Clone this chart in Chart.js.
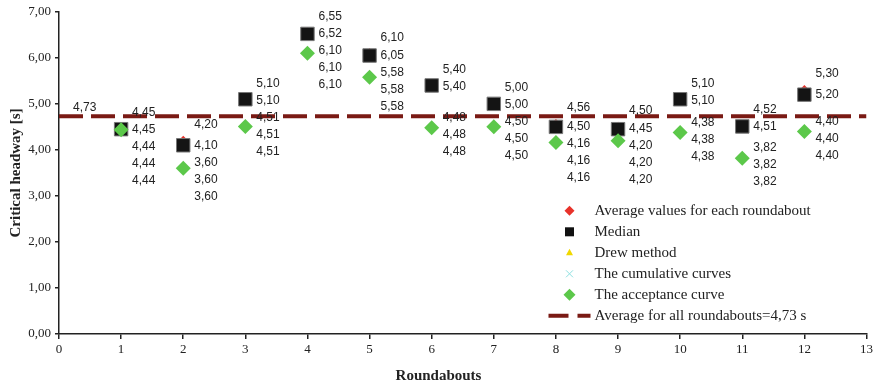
<!DOCTYPE html>
<html>
<head>
<meta charset="utf-8">
<script src="https://cdn.jsdelivr.net/npm/chart.js@4.4.1/dist/chart.umd.min.js"></script>
<style>
  html, body { margin: 0; padding: 0; background: #fff; }
  #wrap { width: 877px; height: 384px; position: relative; }
</style>
</head>
<body>
<div id="wrap"><canvas id="chart"></canvas></div>
<script>
// roundabout numbers on the x axis
const roundabouts = [1, 2, 3, 4, 5, 6, 7, 8, 9, 10, 11, 12];

// critical headway values [s]
const avgValues        = [4.45, 4.20, 5.10, 6.55, 6.10, 5.40, 5.00, 4.56, 4.50, 5.10, 4.52, 5.30];
const medianValues     = [4.45, 4.10, 5.10, 6.52, 6.05, 5.40, 5.00, 4.50, 4.45, 5.10, 4.51, 5.20];
const drewValues       = [4.44, 3.60, 4.51, 6.10, 5.58, 4.48, 4.50, 4.16, 4.20, 4.38, 3.82, 4.40];
const cumulativeValues = [4.44, 3.60, 4.51, 6.10, 5.58, 4.48, 4.50, 4.16, 4.20, 4.38, 3.82, 4.40];
const acceptanceValues = [4.44, 3.60, 4.51, 6.10, 5.58, 4.48, 4.50, 4.16, 4.20, 4.38, 3.82, 4.40];
const overallAverage = 4.73;

const xRange = [0, 13];
const yRange = [0, 7];

const seriesNames = [
  'Average values for each roundabout',
  'Median',
  'Drew method',
  'The cumulative curves',
  'The acceptance curve'
];
const averageName = 'Average for all roundabouts=4,73 s';

const fmt = (v) => v.toFixed(2).replace('.', ',');
const toPoints = (vals) => vals.map((v, i) => ({ x: roundabouts[i], y: v }));

const SERIF = '"Liberation Serif", "Times New Roman", serif';
const SANS = '"Liberation Sans", Arial, sans-serif';
const LINE_RED = '#7a1a14';

// draws the stacked value labels next to each roundabout
const valueLabels = {
  id: 'valueLabels',
  afterDatasetsDraw(chart) {
    const { ctx, scales } = chart;
    ctx.save();
    ctx.font = '12px ' + SANS;
    ctx.fillStyle = '#222';
    ctx.textBaseline = 'middle';
    ctx.textAlign = 'left';
    const all = [avgValues, medianValues, drewValues, cumulativeValues, acceptanceValues];
    roundabouts.forEach((r, i) => {
      const px = scales.x.getPixelForValue(r);
      const py = all.map((s) => scales.y.getPixelForValue(s[i]));
      let y = py[0] - 16;
      const ys = [y];
      y = Math.max(py[1], y + 17); ys.push(y);
      y = Math.max(py[2] - 10, y + 17); ys.push(y);
      y = y + 17; ys.push(y);
      y = y + 17; ys.push(y);
      all.forEach((s, k) => ctx.fillText(fmt(s[i]), px + 11, ys[k]));
    });
    // label of the overall average line
    const ly = scales.y.getPixelForValue(overallAverage);
    ctx.fillText(fmt(overallAverage), scales.x.getPixelForValue(0) + 14, ly - 9);
    ctx.restore();
  }
};

function drawMarker(ctx, kind, x, y) {
  ctx.save();
  if (kind === 'diamondRed' || kind === 'diamondGreen') {
    const r = kind === 'diamondRed' ? 5 : 6;
    ctx.fillStyle = kind === 'diamondRed' ? '#e8322a' : '#5cc84a';
    ctx.beginPath();
    ctx.moveTo(x, y - r); ctx.lineTo(x + r, y); ctx.lineTo(x, y + r); ctx.lineTo(x - r, y);
    ctx.closePath(); ctx.fill();
  } else if (kind === 'square') {
    ctx.fillStyle = '#111';
    ctx.fillRect(x - 4.5, y - 4.5, 9, 9);
  } else if (kind === 'triangle') {
    ctx.fillStyle = '#f0d800';
    ctx.beginPath();
    ctx.moveTo(x, y - 4); ctx.lineTo(x + 3.5, y + 2.5); ctx.lineTo(x - 3.5, y + 2.5);
    ctx.closePath(); ctx.fill();
  } else if (kind === 'cross') {
    ctx.strokeStyle = '#8ee0e0';
    ctx.lineWidth = 1;
    ctx.beginPath();
    ctx.moveTo(x - 3.5, y - 3.5); ctx.lineTo(x + 3.5, y + 3.5);
    ctx.moveTo(x + 3.5, y - 3.5); ctx.lineTo(x - 3.5, y + 3.5);
    ctx.stroke();
  }
  ctx.restore();
}

// legend inside the plot plus the two axis titles
const legendAndTitles = {
  id: 'legendAndTitles',
  afterDraw(chart) {
    const { ctx, chartArea } = chart;
    ctx.save();
    const kinds = ['diamondRed', 'square', 'triangle', 'cross', 'diamondGreen'];
    const mx = chartArea.right - 297;
    const tx = chartArea.right - 272;
    let y = chartArea.top + 199;
    ctx.font = '15px ' + SERIF;
    ctx.fillStyle = '#222';
    ctx.textBaseline = 'middle';
    seriesNames.forEach((name, k) => {
      drawMarker(ctx, kinds[k], mx, y);
      ctx.fillText(name, tx, y);
      y += 21;
    });
    ctx.strokeStyle = LINE_RED;
    ctx.lineWidth = 4;
    ctx.beginPath();
    ctx.moveTo(mx - 21, y); ctx.lineTo(mx - 1, y);
    ctx.moveTo(mx + 8, y); ctx.lineTo(mx + 21, y);
    ctx.stroke();
    ctx.fillText(averageName, tx, y);

    // axis titles
    ctx.font = 'bold 15px ' + SERIF;
    ctx.textAlign = 'center';
    ctx.fillText('Roundabouts', chart.width / 2, 376);
    ctx.translate(16, (chartArea.top + chartArea.bottom) / 2);
    ctx.rotate(-Math.PI / 2);
    ctx.fillText('Critical headway [s]', 0, 0);
    ctx.restore();
  }
};

new Chart(document.getElementById('chart'), {
  type: 'scatter',
  data: {
    datasets: [
      {
        label: averageName,
        type: 'line',
        data: [{ x: xRange[0], y: overallAverage }, { x: xRange[1], y: overallAverage }],
        borderColor: LINE_RED,
        borderWidth: 4,
        borderDash: [24, 8],
        pointRadius: 0,
        order: 10
      },
      {
        label: seriesNames[0],
        data: toPoints(avgValues),
        pointStyle: 'rectRot',
        pointRadius: 5,
        backgroundColor: '#e8322a',
        borderWidth: 0,
        order: 5
      },
      {
        label: seriesNames[1],
        data: toPoints(medianValues),
        pointStyle: 'rect',
        pointRadius: 9.5,
        backgroundColor: '#141414',
        borderColor: '#777',
        borderWidth: 1,
        order: 4
      },
      {
        label: seriesNames[2],
        data: toPoints(drewValues),
        pointStyle: 'triangle',
        pointRadius: 4,
        backgroundColor: '#f0d800',
        borderWidth: 0,
        order: 3
      },
      {
        label: seriesNames[3],
        data: toPoints(cumulativeValues),
        pointStyle: 'crossRot',
        pointRadius: 4,
        borderColor: '#8ee0e0',
        borderWidth: 1,
        order: 2
      },
      {
        label: seriesNames[4],
        data: toPoints(acceptanceValues),
        pointStyle: 'rectRot',
        pointRadius: 7.5,
        backgroundColor: '#5cc84a',
        borderWidth: 0,
        order: 1
      }
    ]
  },
  options: {
    responsive: true,
    maintainAspectRatio: false,
    animation: false,
    layout: { padding: { top: 11, right: 9, left: 0, bottom: 0 } },
    plugins: {
      legend: { display: false },
      tooltip: { enabled: false }
    },
    scales: {
      x: {
        type: 'linear',
        min: xRange[0],
        max: xRange[1],
        afterFit: (scale) => { scale.height = 50; },
        border: { color: '#222', width: 1.5 },
        grid: { drawOnChartArea: false, drawTicks: true, tickLength: 5, color: '#222', lineWidth: 1.5 },
        ticks: {
          stepSize: 1,
          color: '#222',
          font: { family: SERIF, size: 13 },
          padding: 3
        }
      },
      y: {
        min: yRange[0],
        max: yRange[1],
        afterFit: (scale) => { scale.width = 59; },
        border: { color: '#222', width: 1.5 },
        grid: { drawOnChartArea: false, drawTicks: true, tickLength: 4, color: '#222', lineWidth: 1.5 },
        ticks: {
          stepSize: 1,
          color: '#222',
          font: { family: SERIF, size: 13 },
          padding: 4,
          callback: (v) => fmt(v)
        }
      }
    }
  },
  plugins: [valueLabels, legendAndTitles]
});
</script>
</body>
</html>
